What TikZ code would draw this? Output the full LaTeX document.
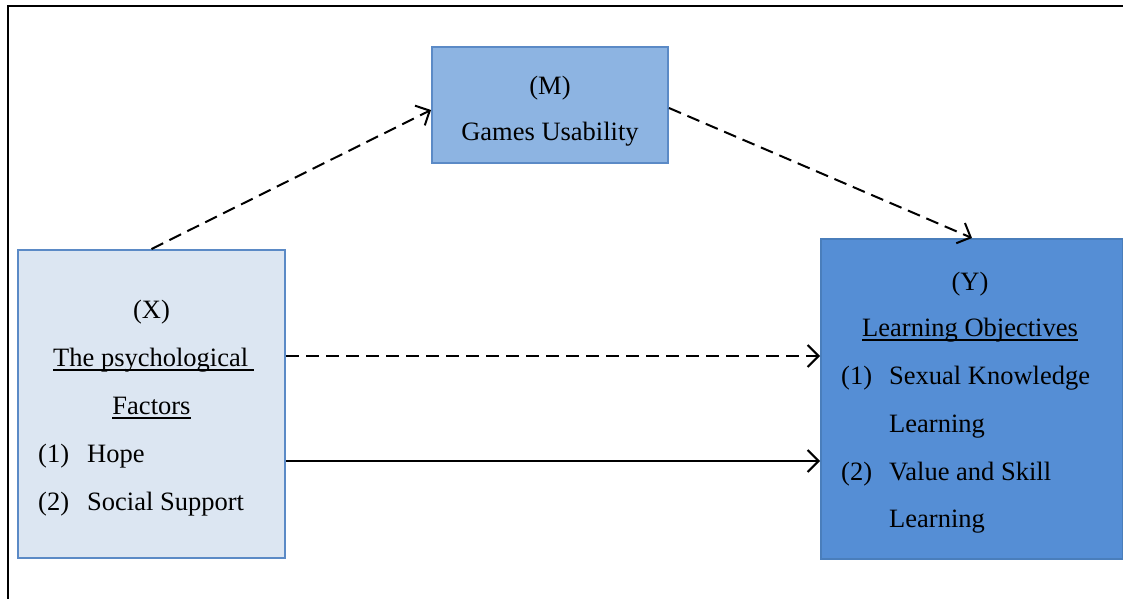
\documentclass[tikz,border=0pt]{standalone}
\usepackage{fontspec}
\setmainfont{Liberation Serif}
\usetikzlibrary{arrows.meta}
\definecolor{xfill}{HTML}{DCE6F2}
\definecolor{mfill}{HTML}{8DB4E2}
\definecolor{yfill}{HTML}{558ED5}
\definecolor{bordc}{HTML}{5B8AC6}
\definecolor{ybord}{HTML}{4A7EBB}
\tikzset{
  box/.style={draw=bordc, line width=2pt, inner sep=0pt},
  txt/.style={inner sep=0pt, font=\fontsize{26.5}{30}\selectfont},
  conn/.style={line width=2pt, -{Straight Barb[length=11pt,width=22pt,line width=2pt]}},
  dsh/.style={dash pattern=on 13pt off 7pt},
  ul/.style={line width=1.6pt}
}
\begin{document}
\begin{tikzpicture}[x=1pt,y=-1pt]
\useasboundingbox (0,0) rectangle (1123,598);
\clip (0,0) rectangle (1123,598);
\draw[line width=2pt] (8,640) -- (8,6) -- (1140,6);
% boxes
\node[box, fill=xfill, minimum width=267pt, minimum height=308pt] (X) at (151.5,404) {};
\node[box, fill=mfill, minimum width=236pt, minimum height=116pt] (M) at (550,105) {};
\node[box, draw=ybord, fill=yfill, minimum width=302pt, minimum height=320pt, anchor=north west] (Y) at (820,238) {};
% X text
\node[txt, anchor=base] (x1) at (151.5,318) {(X)};
\node[txt, anchor=base west] (x2) at (53,366) {The psychological\ };
\node[txt, anchor=base] (x3) at (151.5,414) {Factors};
\node[txt, anchor=base west] (x4n) at (38,462) {(1)};
\node[txt, anchor=base west] (x4) at (87,462) {Hope};
\node[txt, anchor=base west] (x5n) at (38,510) {(2)};
\node[txt, anchor=base west] (x5) at (87,510) {Social Support};
\draw[ul] ([yshift=-4pt]x2.base west) -- ([xshift=6pt,yshift=-4pt]x2.base east);
\draw[ul] ([yshift=-4pt]x3.base west) -- ([yshift=-4pt]x3.base east);
% M text
\node[txt, anchor=base] (m1) at (550,94) {(M)};
\node[txt, anchor=base] (m2) at (550,140) {Games Usability};
% Y text
\node[txt, anchor=base] (y1) at (970,290) {(Y)};
\node[txt, anchor=base] (y2) at (970,336) {Learning Objectives};
\node[txt, anchor=base west] (y3n) at (841,384) {(1)};
\node[txt, anchor=base west] (y3) at (889,384) {Sexual Knowledge};
\node[txt, anchor=base west] (y4) at (889,432) {Learning};
\node[txt, anchor=base west] (y5n) at (841,480) {(2)};
\node[txt, anchor=base west] (y5) at (889,480) {Value and Skill};
\node[txt, anchor=base west] (y6) at (889,527) {Learning};
\draw[ul] ([yshift=-4pt]y2.base west) -- ([yshift=-4pt]y2.base east);
% connectors
\draw[conn, dsh] (X.north) -- ([yshift=-5pt]M.west);
\draw[conn, dsh] ([yshift=-3pt]M.east) -- (Y.north);
\draw[conn, dsh] (X.east |- 0,356) -- (Y.west |- 0,356);
\draw[conn] (X.east |- 0,461) -- (Y.west |- 0,461);
\end{tikzpicture}
\end{document}
